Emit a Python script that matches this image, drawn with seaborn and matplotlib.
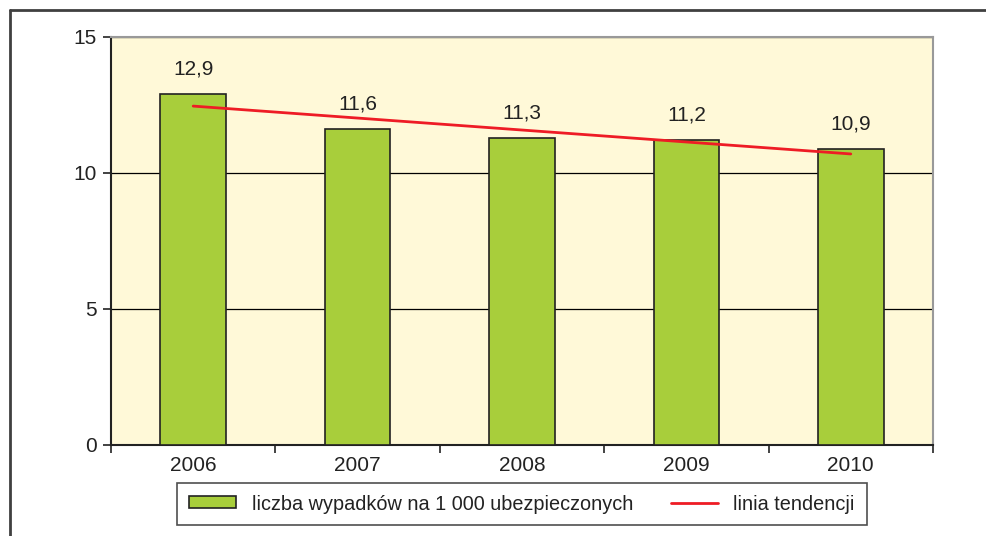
import numpy as np
import pandas as pd
import matplotlib
matplotlib.use('Agg')
import matplotlib.pyplot as plt
from matplotlib.patches import Patch
from matplotlib.lines import Line2D
import seaborn as sns

# Data
years = ['2006', '2007', '2008', '2009', '2010']
values = [12.9, 11.6, 11.3, 11.2, 10.9]
value_labels = ['12,9', '11,6', '11,3', '11,2', '10,9']
bar_label = 'liczba wypadków na 1 000 ubezpieczonych'
trend_label = 'linia tendencji'

bar_color = '#A8CE3B'
bg_color = '#FFF9D8'
trend_color = '#EE1C25'
text_color = '#222222'

sns.set_style('white')
plt.rcParams['font.family'] = ['Liberation Sans', 'DejaVu Sans']

df = pd.DataFrame({'year': years, 'value': values})

fig = plt.figure(figsize=(9.87, 5.36), dpi=100)
ax = fig.add_axes([111 / 987, 1 - 445 / 536, (933 - 111) / 987, (445 - 37) / 536])
ax.set_facecolor(bg_color)

sns.barplot(data=df, x='year', y='value', color=bar_color, width=0.4,
            edgecolor=text_color, linewidth=1.2, saturation=1, ax=ax, zorder=3)

# linear trend line
xs = np.arange(len(values))
slope, intercept = np.polyfit(xs, values, 1)
ax.plot(xs, slope * xs + intercept, color=trend_color, lw=2, zorder=4)

for i, (v, lab) in enumerate(zip(values, value_labels)):
    ax.annotate(lab, (i, v), xytext=(0, 18), textcoords='offset points',
                ha='center', va='center', fontsize=15, color=text_color)

ax.set_xlim(-0.5, len(years) - 0.5)
ax.set_ylim(0, 15)
ax.set_yticks([0, 5, 10, 15])
ax.yaxis.grid(True, color='black', lw=0.9, zorder=0)
ax.set_axisbelow(True)
ax.set_xlabel('')
ax.set_ylabel('')

ax.set_xticks(np.arange(-0.5, len(years)), minor=True)
ax.tick_params(axis='x', which='major', bottom=True, length=0, pad=8,
               labelsize=15, labelcolor=text_color)
ax.tick_params(axis='x', which='minor', bottom=True, length=6, width=1.2,
               color=text_color, direction='out')
ax.tick_params(axis='y', left=True, length=6, width=1.2, color=text_color, direction='out',
               pad=4, labelsize=15, labelcolor=text_color)

ax.spines['left'].set_color(text_color)
ax.spines['bottom'].set_color(text_color)
ax.spines['top'].set_color('#999999')
ax.spines['right'].set_color('#999999')
for s in ax.spines.values():
    s.set_linewidth(1.5)

handles = [Patch(facecolor=bar_color, edgecolor=text_color, linewidth=1.2, label=bar_label),
           Line2D([0], [0], color=trend_color, lw=2, label=trend_label)]
leg = fig.legend(handles=handles, loc='center', bbox_to_anchor=(522 / 987, 1 - 504 / 536),
                 ncol=2, frameon=True, fancybox=False, fontsize=14.3, columnspacing=1.9,
                 handlelength=2.35, handleheight=0.55, handletextpad=0.8,
                 borderpad=0.6, edgecolor=text_color)
leg.get_frame().set_linewidth(1.2)
for t in leg.get_texts():
    t.set_color(text_color)

# outer frame (left and top edges visible)
fig.add_artist(Line2D([10 / 987, 10 / 987], [0, 1 - 10 / 536], color='#404040', lw=2,
                      transform=fig.transFigure))
fig.add_artist(Line2D([10 / 987, 1], [1 - 10 / 536, 1 - 10 / 536], color='#404040', lw=2,
                      transform=fig.transFigure))

fig.savefig('out.png', dpi=100)
